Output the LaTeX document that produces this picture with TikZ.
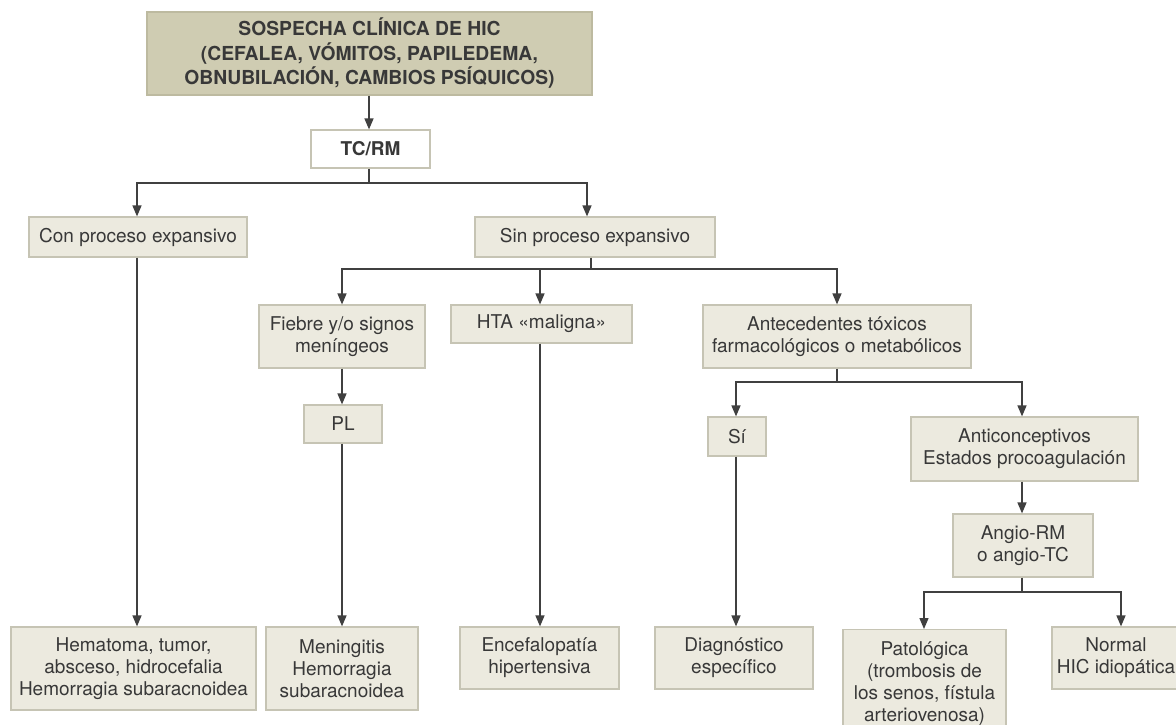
\documentclass[tikz,border=0pt]{standalone}
\usepackage{fontspec}
\setmainfont{TeX Gyre Heros}
\usetikzlibrary{arrows.meta}
\definecolor{topfill}{HTML}{CFCCB2}
\definecolor{topdraw}{HTML}{BDBAA0}
\definecolor{boxfill}{HTML}{ECEADF}
\definecolor{boxdraw}{HTML}{C6C4B4}
\definecolor{txt}{HTML}{383838}
\definecolor{ln}{HTML}{404040}
\tikzset{
  box/.style={draw=boxdraw, fill=boxfill, line width=1.2pt, text=txt, align=center,
    inner sep=0pt, font=\fontsize{19}{22}\selectfont},
  topbox/.style={box, draw=topdraw, fill=topfill, font=\fontsize{19.3}{24.5}\selectfont\bfseries},
  whitebox/.style={box, fill=white, font=\fontsize{19}{22}\selectfont\bfseries},
  conn/.style={draw=ln, line width=1.4pt},
  arr/.style={conn, -{Triangle[width=9pt,length=11pt]}},
}
\begin{document}
\begin{tikzpicture}[x=1pt,y=-1pt]
\useasboundingbox (0,0) rectangle (1176,724);
\clip (0,0) rectangle (1176,724);
\fill[white] (0,0) rectangle (1176,724);
% nodes
\node[topbox, minimum width=445pt, minimum height=83pt] (top) at (369.5,53.5)
  {SOSPECHA CLÍNICA DE HIC\\(CEFALEA, VÓMITOS, PAPILEDEMA,\\OBNUBILACIÓN, CAMBIOS PSÍQUICOS)};
\node[whitebox, minimum width=119pt, minimum height=38pt] (tcrm) at (370.5,149) {TC/RM};
\node[box, minimum width=218pt, minimum height=40pt] (con) at (138,237) {Con proceso expansivo};
\node[box, minimum width=240pt, minimum height=40pt] (sin) at (595,237) {Sin proceso expansivo};
\node[box, minimum width=166pt, minimum height=63pt] (fiebre) at (342,336.5) {Fiebre y/o signos\\meníngeos};
\node[box, minimum width=181pt, minimum height=38pt] (hta) at (541.5,324) {HTA «maligna»};
\node[box, minimum width=268pt, minimum height=63pt] (ante) at (837,336.5) {Antecedentes tóxicos\\farmacológicos o metabólicos};
\node[box, minimum width=78pt, minimum height=38pt] (pl) at (343,424) {PL};
\node[box, minimum width=58pt, minimum height=39pt] (si) at (737,436.5) {Sí};
\node[box, minimum width=227pt, minimum height=64pt] (anti) at (1024.5,449) {Anticonceptivos\\Estados procoagulación};
\node[box, minimum width=140pt, minimum height=63pt] (angio) at (1023,545.5) {Angio-RM\\o angio-TC};
\node[box, minimum width=245pt, minimum height=83pt] (hema) at (133.5,668.5) {Hematoma, tumor,\\absceso, hidrocefalia\\Hemorragia subaracnoidea};
\node[box, minimum width=152pt, minimum height=83pt] (meni) at (342,668.5) {Meningitis\\Hemorragia\\subaracnoidea};
\node[box, minimum width=159pt, minimum height=62pt] (ence) at (539.5,658) {Encefalopatía\\hipertensiva};
\node[box, minimum width=158pt, minimum height=62pt] (diag) at (734,658) {Diagnóstico\\específico};
\node[box, minimum width=163pt, minimum height=108pt, anchor=north] (pato) at (924.5,629) {Patológica\\(trombosis de\\los senos, fístula\\arteriovenosa)};
\node[box, minimum width=128pt, minimum height=62pt] (normal) at (1116,658) {Normal\\HIC idiopática};
% junctions
\coordinate (j1) at (369,183);
\coordinate (j2) at (591,269);
\coordinate (j3) at (837,382);
\coordinate (j4) at (1022,592);
% connectors
\draw[arr] (top.south -| tcrm.north) ++(-1.5,0) coordinate (t0) -- (t0 |- tcrm.north);
\draw[conn] (tcrm.south -| j1) -- (j1);
\draw[arr] (j1) -| ([xshift=-1pt]con.north);
\draw[arr] (j1) -| ([xshift=-8pt]sin.north);
\draw[conn] (sin.south -| j2) -- (j2);
\draw[arr] (j2) -| (fiebre.north);
\draw[arr] (j2) -| ([xshift=-1.5pt]hta.north);
\draw[arr] (j2) -| (ante.north);
\draw[arr] (fiebre.south) -- (fiebre.south |- pl.north);
\draw[arr] ([xshift=-1pt]pl.south) -- ([xshift=-1pt]pl.south |- meni.north);
\draw[arr] ([xshift=-1pt]con.south) -- ([xshift=-1pt]con.south |- hema.north);
\draw[arr] ([xshift=-1.5pt]hta.south) -- ([xshift=-1.5pt]hta.south |- ence.north);
\draw[conn] (ante.south) -- (j3);
\draw[arr] (j3) -| ([xshift=-1pt]si.north);
\draw[arr] (j3) -| ([xshift=-2.5pt]anti.north);
\draw[arr] ([xshift=-1pt]si.south) -- ([xshift=-1pt]si.south |- diag.north);
\draw[arr] ([xshift=-2.5pt]anti.south) -- ([xshift=-2.5pt]anti.south |- angio.north);
\draw[conn] (angio.south -| j4) -- (j4);
\draw[arr] (j4) -| ([xshift=-0.5pt]pato.north);
\draw[arr] (j4) -| ([xshift=5pt]normal.north);
\end{tikzpicture}
\end{document}
